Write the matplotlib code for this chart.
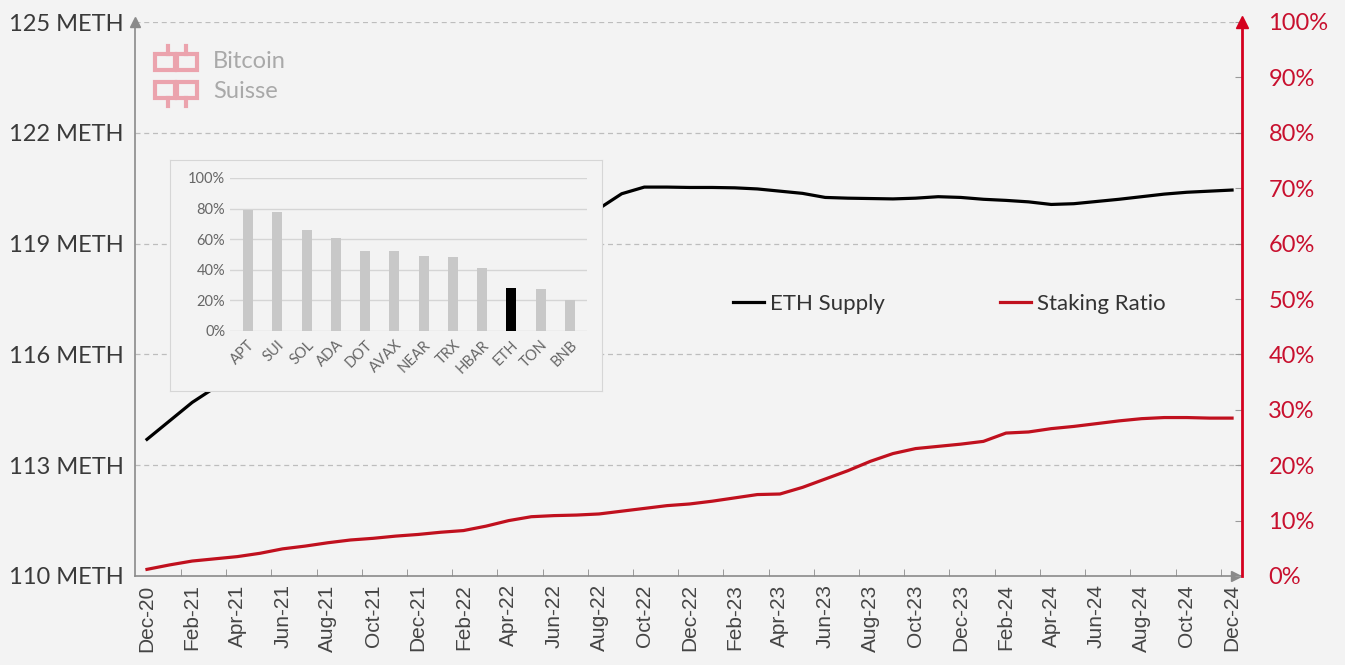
import numpy as np
import pandas as pd
import matplotlib.pyplot as plt
from matplotlib.patches import Rectangle
from matplotlib.lines import Line2D

W, H = 1345, 665
BG = '#f3f3f3'
RED = '#c0101e'

# monthly points, Dec-20 .. Dec-24
months = pd.date_range("2020-12-01", "2024-12-01", freq="MS").strftime("%b-%y").tolist()
eth_supply = [113.7, 114.2, 114.7, 115.1, 115.5, 115.9, 116.3, 116.6, 116.9, 117.2,
              117.5, 117.8, 118.1, 118.4, 118.65, 118.9, 119.1, 119.3, 119.5, 119.7,
              119.95, 120.35, 120.53, 120.53, 120.52, 120.52, 120.51, 120.48, 120.42, 120.36,
              120.25, 120.23, 120.22, 120.21, 120.23, 120.27, 120.25, 120.2, 120.17, 120.13,
              120.06, 120.08, 120.14, 120.2, 120.27, 120.34, 120.39, 120.42, 120.45]
staking_ratio = [1.2, 2.0, 2.7, 3.1, 3.5, 4.1, 4.9, 5.4, 6.0, 6.5,
                 6.8, 7.2, 7.5, 7.9, 8.2, 9.0, 10.0, 10.7, 10.9, 11.0,
                 11.2, 11.7, 12.2, 12.7, 13.0, 13.5, 14.1, 14.7, 14.8, 16.0,
                 17.5, 19.0, 20.7, 22.1, 23.0, 23.4, 23.8, 24.3, 25.8, 26.0,
                 26.6, 27.0, 27.5, 28.0, 28.4, 28.6, 28.6, 28.5, 28.5]

left_ticks = [110, 113, 116, 119, 122, 125]
right_ticks = list(range(0, 101, 10))

# inset: share of supply staked per chain
coins = ['APT', 'SUI', 'SOL', 'ADA', 'DOT', 'AVAX', 'NEAR', 'TRX', 'HBAR', 'ETH', 'TON', 'BNB']
coin_staked = [79, 78, 66, 61, 52, 52, 49, 48, 41, 28, 27, 20]
inset_ticks = [0, 20, 40, 60, 80, 100]

plt.rcParams['font.family'] = ['Lato', 'DejaVu Sans']


def px(x, y):
    return x / W, 1 - y / H


fig = plt.figure(figsize=(W / 100, H / 100), dpi=100, facecolor=BG)
ax = fig.add_axes([135 / W, 1 - 576 / H, (1242 - 135) / W, (576 - 22) / H])
ax.set_facecolor(BG)

x = np.arange(len(months))
l1, = ax.plot(x, eth_supply, color='black', lw=2.3, label='ETH Supply', zorder=3)
ax.set_xlim(-0.53, 48.44)
ax.set_ylim(110, 125)

ax.set_yticks(left_ticks)
ax.set_yticklabels([f"{v} METH" for v in left_ticks])
ax.tick_params(axis='y', length=0, pad=8, labelsize=17, labelcolor='#3a3a3a')
for v in left_ticks[1:]:
    ax.axhline(v, color='#bdbdbd', lw=0.9, ls=(0, (4, 3)), zorder=1)

ax.set_xticks(x[::2])
ax.set_xticklabels(months[::2], rotation=90, fontfamily='Liberation Sans',
                   fontsize=15, color='#444444')
ax.tick_params(axis='x', which='major', length=0, pad=6)
ax.set_xticks(np.arange(1.5, 48, 2), minor=True)
ax.tick_params(axis='x', which='minor', direction='in', length=5, color='#8a8a8a')

for s in ['top', 'right']:
    ax.spines[s].set_visible(False)
for s in ['left', 'bottom']:
    ax.spines[s].set_color('#8a8a8a')
    ax.spines[s].set_linewidth(1.2)

ax2 = ax.twinx()
l2, = ax2.plot(x, staking_ratio, color=RED, lw=2.3, label='Staking Ratio', zorder=3)
ax2.set_ylim(0, 100)
ax2.set_yticks(right_ticks)
ax2.set_yticklabels([f"{v}%" for v in right_ticks])
ax2.tick_params(axis='y', direction='in', length=5, color='#9a9a9a', pad=19,
                labelsize=17, labelcolor='#c8102e')
for s in ['top', 'left', 'bottom']:
    ax2.spines[s].set_visible(False)
ax2.spines['right'].set_color('#d4001e')
ax2.spines['right'].set_linewidth(2)

# axis arrows
ax.plot([0], [1], marker='^', color='#8a8a8a', ms=7, transform=ax.transAxes, clip_on=False, zorder=5)
ax.plot([0.995], [0], marker='>', color='#8a8a8a', ms=7, transform=ax.transAxes, clip_on=False, zorder=5)
ax2.plot([1], [1], marker='^', color='#d4001e', ms=8, transform=ax2.transAxes, clip_on=False, zorder=5)

fig.legend(handles=[l1, l2], loc='center left', bbox_to_anchor=(733 / W, 1 - 304 / H),
           ncol=2, frameon=False, fontsize=16, handlelength=1.4, handletextpad=0.25,
           columnspacing=5.2, borderpad=0, borderaxespad=0, labelcolor='#333333')

# logo
fig.text(*px(213, 62), 'Bitcoin', fontsize=17, color='#a9a9a9', va='center')
fig.text(*px(213, 91), 'Suisse', fontsize=17, color='#a9a9a9', va='center')
pink = '#eba3ad'
for (bx, by, h) in [(155, 54, 16), (177, 54, 16), (155, 82, 16), (177, 82, 16)]:
    fig.patches.append(Rectangle(px(bx, by + h), 20 / W, h / H, transform=fig.transFigure,
                                 fill=False, edgecolor=pink, lw=3))
for (sx, y0, y1) in [(168, 46, 54), (186, 46, 54), (168, 98, 106), (186, 98, 106)]:
    fig.lines.append(Line2D([sx / W, sx / W], [1 - y0 / H, 1 - y1 / H],
                            transform=fig.transFigure, color=pink, lw=3))

# inset box
box = fig.add_axes([170 / W, 1 - 391 / H, 432 / W, 231 / H])
box.set_facecolor(BG)
box.set_xticks([])
box.set_yticks([])
for s in box.spines.values():
    s.set_color('#d6d6d6')

inset = fig.add_axes([230 / W, 1 - 330.7 / H, 357 / W, 152.7 / H])
inset.set_facecolor('none')
colors = ['black' if c == 'ETH' else '#c8c8c8' for c in coins]
inset.bar(range(len(coins)), coin_staked, width=0.34, color=colors, zorder=2)
inset.set_xlim(-0.615, 11.58)
inset.set_ylim(0, 100)
inset.set_yticks(inset_ticks)
inset.set_yticklabels([f"{v}%" for v in inset_ticks])
inset.yaxis.grid(True, color='#d5d5d5', lw=1)
inset.set_axisbelow(True)
inset.set_xticks(range(len(coins)))
inset.set_xticklabels(coins, rotation=45, ha='right', rotation_mode='anchor')
inset.tick_params(length=0, labelsize=10.5, labelcolor='#666666')
inset.tick_params(axis='x', pad=5)
for s in inset.spines.values():
    s.set_visible(False)

fig.savefig('out.png', dpi=100, facecolor=BG)
